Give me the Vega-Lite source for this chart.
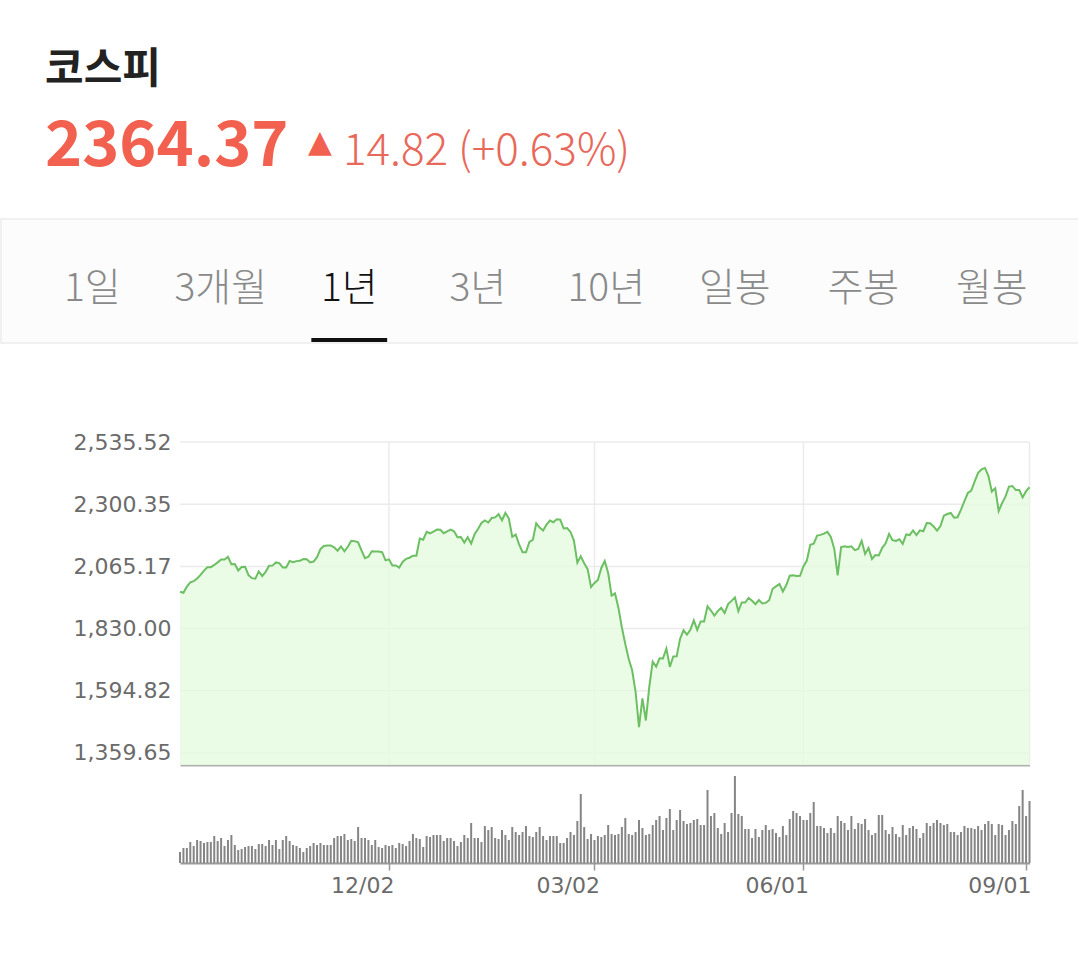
{
"$schema": "https://vega.github.io/schema/vega-lite/v6.json",
"background": "white",
"padding": 0,
"spacing": 0,
"config": {"view": {"stroke": null}, "concat": {"spacing": 0}},
"datasets": {
"header": [{"name": "코스피", "price": "2364.37", "arrow": "▲", "change": "14.82 (+0.63%)"}],
"tabs": [{"tab": "1일", "sel": "n"}, {"tab": "3개월", "sel": "n"}, {"tab": "1년", "sel": "y"}, {"tab": "3년", "sel": "n"}, {"tab": "10년", "sel": "n"}, {"tab": "일봉", "sel": "n"}, {"tab": "주봉", "sel": "n"}, {"tab": "월봉", "sel": "n"}],
"ticks": [{"t": 1359.65}, {"t": 1594.82}, {"t": 1830.00}, {"t": 2065.17}, {"t": 2300.35}, {"t": 2535.52}],
"vlines": [{"d": "2019-12-02"}, {"d": "2020-03-02"}, {"d": "2020-06-01"}, {"d": "2020-09-02"}],
"kospi": [
{"d":"2019-09-02","c":1969.20,"v":220},{"d":"2019-09-03","c":1965.69,"v":300},{"d":"2019-09-04","c":1988.53,"v":300},{"d":"2019-09-05","c":2004.75,"v":420},{"d":"2019-09-06","c":2009.13,"v":340},
{"d":"2019-09-09","c":2019.55,"v":460},{"d":"2019-09-10","c":2032.88,"v":440},{"d":"2019-09-11","c":2049.20,"v":400},{"d":"2019-09-16","c":2062.22,"v":420},{"d":"2019-09-17","c":2062.33,"v":420},
{"d":"2019-09-18","c":2070.73,"v":540},{"d":"2019-09-19","c":2080.43,"v":440},{"d":"2019-09-20","c":2091.52,"v":500},{"d":"2019-09-23","c":2091.25,"v":340},{"d":"2019-09-24","c":2101.04,"v":460},
{"d":"2019-09-25","c":2073.48,"v":560},{"d":"2019-09-26","c":2074.52,"v":360},{"d":"2019-09-27","c":2049.76,"v":260},{"d":"2019-09-30","c":2063.05,"v":280},
{"d":"2019-10-01","c":2063.59,"v":320},{"d":"2019-10-02","c":2031.91,"v":340},{"d":"2019-10-04","c":2020.69,"v":340},{"d":"2019-10-07","c":2018.50,"v":280},{"d":"2019-10-08","c":2046.25,"v":380},
{"d":"2019-10-10","c":2028.50,"v":380},{"d":"2019-10-11","c":2044.61,"v":340},{"d":"2019-10-14","c":2067.51,"v":460},{"d":"2019-10-15","c":2068.17,"v":360},{"d":"2019-10-16","c":2080.27,"v":460},
{"d":"2019-10-17","c":2077.87,"v":280},{"d":"2019-10-18","c":2060.69,"v":460},{"d":"2019-10-21","c":2061.25,"v":540},{"d":"2019-10-22","c":2085.84,"v":440},{"d":"2019-10-23","c":2081.21,"v":360},
{"d":"2019-10-24","c":2085.11,"v":340},{"d":"2019-10-25","c":2086.32,"v":300},{"d":"2019-10-28","c":2092.69,"v":220},{"d":"2019-10-29","c":2092.00,"v":300},{"d":"2019-10-30","c":2080.27,"v":340},
{"d":"2019-10-31","c":2083.48,"v":400},
{"d":"2019-11-01","c":2100.20,"v":360},{"d":"2019-11-04","c":2130.24,"v":400},{"d":"2019-11-05","c":2142.64,"v":360},{"d":"2019-11-06","c":2144.15,"v":360},{"d":"2019-11-07","c":2144.35,"v":360},
{"d":"2019-11-08","c":2137.10,"v":500},{"d":"2019-11-11","c":2124.58,"v":540},{"d":"2019-11-12","c":2140.92,"v":540},{"d":"2019-11-13","c":2122.45,"v":580},{"d":"2019-11-14","c":2139.23,"v":460},
{"d":"2019-11-15","c":2162.18,"v":480},{"d":"2019-11-18","c":2160.69,"v":440},{"d":"2019-11-19","c":2156.26,"v":720},{"d":"2019-11-20","c":2125.32,"v":500},{"d":"2019-11-21","c":2096.60,"v":500},
{"d":"2019-11-22","c":2101.96,"v":460},{"d":"2019-11-25","c":2122.23,"v":360},{"d":"2019-11-26","c":2121.35,"v":460},{"d":"2019-11-27","c":2121.40,"v":320},{"d":"2019-11-28","c":2118.98,"v":300},
{"d":"2019-11-29","c":2087.96,"v":360},
{"d":"2019-12-02","c":2091.92,"v":340},{"d":"2019-12-03","c":2068.89,"v":360},{"d":"2019-12-04","c":2068.60,"v":300},{"d":"2019-12-05","c":2060.74,"v":400},{"d":"2019-12-06","c":2081.85,"v":380},
{"d":"2019-12-09","c":2093.66,"v":340},{"d":"2019-12-10","c":2098.00,"v":440},{"d":"2019-12-11","c":2105.62,"v":580},{"d":"2019-12-12","c":2105.63,"v":500},{"d":"2019-12-13","c":2170.25,"v":480},
{"d":"2019-12-16","c":2166.12,"v":320},{"d":"2019-12-17","c":2195.68,"v":540},{"d":"2019-12-18","c":2190.32,"v":520},{"d":"2019-12-19","c":2196.56,"v":560},{"d":"2019-12-20","c":2204.18,"v":560},
{"d":"2019-12-23","c":2203.71,"v":560},{"d":"2019-12-24","c":2190.80,"v":440},{"d":"2019-12-26","c":2197.93,"v":500},{"d":"2019-12-27","c":2204.21,"v":500},{"d":"2019-12-30","c":2197.67,"v":440},
{"d":"2020-01-02","c":2175.17,"v":340},{"d":"2020-01-03","c":2176.46,"v":420},{"d":"2020-01-06","c":2155.07,"v":560},{"d":"2020-01-07","c":2175.54,"v":500},{"d":"2020-01-08","c":2151.31,"v":800},
{"d":"2020-01-09","c":2186.45,"v":500},{"d":"2020-01-10","c":2206.39,"v":500},{"d":"2020-01-13","c":2229.26,"v":420},{"d":"2020-01-14","c":2238.88,"v":740},{"d":"2020-01-15","c":2230.98,"v":660},
{"d":"2020-01-16","c":2248.05,"v":720},{"d":"2020-01-17","c":2250.57,"v":500},{"d":"2020-01-20","c":2262.64,"v":480},{"d":"2020-01-21","c":2239.69,"v":660},{"d":"2020-01-22","c":2267.25,"v":560},
{"d":"2020-01-23","c":2246.13,"v":460},{"d":"2020-01-28","c":2176.72,"v":720},{"d":"2020-01-29","c":2185.28,"v":620},{"d":"2020-01-30","c":2148.00,"v":560},{"d":"2020-01-31","c":2119.01,"v":620},
{"d":"2020-02-03","c":2118.88,"v":740},{"d":"2020-02-04","c":2157.90,"v":540},{"d":"2020-02-05","c":2165.63,"v":520},{"d":"2020-02-06","c":2227.94,"v":620},{"d":"2020-02-07","c":2211.95,"v":720},
{"d":"2020-02-10","c":2201.07,"v":540},{"d":"2020-02-11","c":2223.12,"v":460},{"d":"2020-02-12","c":2238.38,"v":540},{"d":"2020-02-13","c":2232.07,"v":540},{"d":"2020-02-14","c":2243.59,"v":540},
{"d":"2020-02-17","c":2242.17,"v":400},{"d":"2020-02-18","c":2208.88,"v":400},{"d":"2020-02-19","c":2210.34,"v":500},{"d":"2020-02-20","c":2195.50,"v":620},{"d":"2020-02-21","c":2162.84,"v":560},
{"d":"2020-02-24","c":2079.04,"v":840},{"d":"2020-02-25","c":2103.61,"v":1380},{"d":"2020-02-26","c":2076.77,"v":720},{"d":"2020-02-27","c":2054.89,"v":480},{"d":"2020-02-28","c":1987.01,"v":580},
{"d":"2020-03-02","c":2002.51,"v":460},{"d":"2020-03-03","c":2014.15,"v":540},{"d":"2020-03-04","c":2059.33,"v":520},{"d":"2020-03-05","c":2085.26,"v":560},{"d":"2020-03-06","c":2040.22,"v":760},
{"d":"2020-03-09","c":1954.77,"v":580},{"d":"2020-03-10","c":1962.93,"v":560},{"d":"2020-03-11","c":1908.27,"v":580},{"d":"2020-03-12","c":1834.33,"v":720},{"d":"2020-03-13","c":1771.44,"v":900},
{"d":"2020-03-16","c":1714.86,"v":580},{"d":"2020-03-17","c":1672.44,"v":560},{"d":"2020-03-18","c":1591.20,"v":620},{"d":"2020-03-19","c":1457.64,"v":860},{"d":"2020-03-20","c":1566.15,"v":700},
{"d":"2020-03-23","c":1482.46,"v":560},{"d":"2020-03-24","c":1609.97,"v":580},{"d":"2020-03-25","c":1704.76,"v":760},{"d":"2020-03-26","c":1686.24,"v":860},{"d":"2020-03-27","c":1717.73,"v":940},
{"d":"2020-03-30","c":1717.12,"v":660},{"d":"2020-03-31","c":1754.64,"v":900},
{"d":"2020-04-01","c":1685.46,"v":1080},{"d":"2020-04-02","c":1724.86,"v":660},{"d":"2020-04-03","c":1725.44,"v":860},{"d":"2020-04-06","c":1791.88,"v":1060},{"d":"2020-04-07","c":1823.60,"v":840},
{"d":"2020-04-08","c":1807.14,"v":780},{"d":"2020-04-09","c":1825.76,"v":800},{"d":"2020-04-10","c":1860.70,"v":860},{"d":"2020-04-13","c":1825.05,"v":880},{"d":"2020-04-14","c":1857.08,"v":760},
{"d":"2020-04-16","c":1857.07,"v":760},{"d":"2020-04-17","c":1914.53,"v":1460},{"d":"2020-04-20","c":1898.36,"v":940},{"d":"2020-04-21","c":1879.38,"v":1000},{"d":"2020-04-22","c":1896.15,"v":700},
{"d":"2020-04-23","c":1909.00,"v":580},{"d":"2020-04-24","c":1889.01,"v":800},{"d":"2020-04-27","c":1922.77,"v":620},{"d":"2020-04-28","c":1934.81,"v":1000},{"d":"2020-04-29","c":1947.56,"v":1740},
{"d":"2020-05-04","c":1895.37,"v":980},{"d":"2020-05-06","c":1928.76,"v":940},{"d":"2020-05-07","c":1928.61,"v":680},{"d":"2020-05-08","c":1945.82,"v":680},{"d":"2020-05-11","c":1935.40,"v":500},
{"d":"2020-05-12","c":1922.17,"v":680},{"d":"2020-05-13","c":1938.00,"v":520},{"d":"2020-05-14","c":1925.00,"v":660},{"d":"2020-05-15","c":1927.28,"v":760},{"d":"2020-05-18","c":1937.11,"v":660},
{"d":"2020-05-19","c":1980.61,"v":680},{"d":"2020-05-20","c":1989.64,"v":600},{"d":"2020-05-21","c":1998.31,"v":520},{"d":"2020-05-22","c":1970.13,"v":740},{"d":"2020-05-25","c":1994.60,"v":560},
{"d":"2020-05-26","c":2029.78,"v":880},{"d":"2020-05-27","c":2031.20,"v":1040},{"d":"2020-05-28","c":2028.54,"v":1000},{"d":"2020-05-29","c":2029.60,"v":940},
{"d":"2020-06-01","c":2065.08,"v":860},{"d":"2020-06-02","c":2087.19,"v":860},{"d":"2020-06-03","c":2147.00,"v":1000},{"d":"2020-06-04","c":2151.18,"v":1220},{"d":"2020-06-05","c":2181.87,"v":740},
{"d":"2020-06-08","c":2184.29,"v":740},{"d":"2020-06-09","c":2188.92,"v":700},{"d":"2020-06-10","c":2195.69,"v":600},{"d":"2020-06-11","c":2176.78,"v":700},{"d":"2020-06-12","c":2132.30,"v":600},
{"d":"2020-06-15","c":2030.82,"v":940},{"d":"2020-06-16","c":2138.05,"v":840},{"d":"2020-06-17","c":2141.05,"v":800},{"d":"2020-06-18","c":2139.02,"v":660},{"d":"2020-06-19","c":2141.32,"v":940},
{"d":"2020-06-22","c":2126.73,"v":680},{"d":"2020-06-23","c":2131.24,"v":800},{"d":"2020-06-24","c":2161.51,"v":780},{"d":"2020-06-25","c":2112.37,"v":880},{"d":"2020-06-26","c":2134.65,"v":660},
{"d":"2020-06-29","c":2093.48,"v":560},{"d":"2020-06-30","c":2108.33,"v":600},
{"d":"2020-07-01","c":2106.70,"v":960},{"d":"2020-07-02","c":2135.37,"v":960},{"d":"2020-07-03","c":2152.41,"v":660},{"d":"2020-07-06","c":2187.93,"v":580},{"d":"2020-07-07","c":2164.17,"v":720},
{"d":"2020-07-08","c":2161.75,"v":580},{"d":"2020-07-09","c":2167.90,"v":520},{"d":"2020-07-10","c":2150.25,"v":760},{"d":"2020-07-13","c":2186.06,"v":560},{"d":"2020-07-14","c":2183.61,"v":700},
{"d":"2020-07-15","c":2201.19,"v":740},{"d":"2020-07-16","c":2183.76,"v":680},{"d":"2020-07-17","c":2201.47,"v":500},{"d":"2020-07-20","c":2198.20,"v":600},{"d":"2020-07-21","c":2228.93,"v":800},
{"d":"2020-07-22","c":2228.66,"v":740},{"d":"2020-07-23","c":2216.19,"v":800},{"d":"2020-07-24","c":2200.44,"v":860},{"d":"2020-07-27","c":2217.86,"v":800},{"d":"2020-07-28","c":2256.99,"v":760},
{"d":"2020-07-29","c":2263.16,"v":780},{"d":"2020-07-30","c":2267.01,"v":620},{"d":"2020-07-31","c":2249.37,"v":620},
{"d":"2020-08-03","c":2251.04,"v":560},{"d":"2020-08-04","c":2279.97,"v":620},{"d":"2020-08-05","c":2311.86,"v":740},{"d":"2020-08-06","c":2342.61,"v":700},{"d":"2020-08-07","c":2351.67,"v":700},
{"d":"2020-08-10","c":2386.38,"v":680},{"d":"2020-08-11","c":2418.67,"v":740},{"d":"2020-08-12","c":2432.35,"v":660},{"d":"2020-08-13","c":2437.53,"v":780},{"d":"2020-08-14","c":2407.49,"v":840},
{"d":"2020-08-18","c":2348.24,"v":780},{"d":"2020-08-19","c":2360.54,"v":560},{"d":"2020-08-20","c":2274.22,"v":780},{"d":"2020-08-21","c":2304.59,"v":760},{"d":"2020-08-24","c":2329.83,"v":560},
{"d":"2020-08-25","c":2366.73,"v":660},{"d":"2020-08-26","c":2369.25,"v":840},{"d":"2020-08-27","c":2353.80,"v":780},{"d":"2020-08-28","c":2353.80,"v":1140},{"d":"2020-08-31","c":2326.17,"v":1460},
{"d":"2020-09-01","c":2349.55,"v":940},{"d":"2020-09-02","c":2364.37,"v":1240}
]
},
"vconcat": [
{
"width": 1078, "height": 218,
"data": {"name": "header"},
"layer": [
{"mark": {"type": "text", "align": "left", "baseline": "alphabetic", "font": "Noto Sans CJK KR", "fontSize": 42, "fontWeight": "bold", "color": "#222222"},
 "encoding": {"text": {"field": "name"}, "x": {"value": 44}, "y": {"value": 83}}},
{"mark": {"type": "text", "align": "left", "baseline": "alphabetic", "font": "Noto Sans CJK KR", "fontSize": 63, "fontWeight": "bold", "color": "#f2604f"},
 "encoding": {"text": {"field": "price"}, "x": {"value": 44}, "y": {"value": 166}}},
{"mark": {"type": "text", "align": "left", "baseline": "alphabetic", "font": "DejaVu Sans", "fontSize": 31, "color": "#f2604f"},
 "encoding": {"text": {"field": "arrow"}, "x": {"value": 307}, "y": {"value": 152}}},
{"mark": {"type": "text", "align": "left", "baseline": "alphabetic", "font": "Noto Sans CJK KR", "fontSize": 44, "fontWeight": 300, "color": "#e8685a"},
 "encoding": {"text": {"field": "change"}, "x": {"value": 342}, "y": {"value": 165}}}
]
},
{
"width": 1078, "height": 124,
"view": {"fill": "#fcfcfc", "stroke": "#ebebeb", "strokeWidth": 1.5},
"data": {"name": "tabs"},
"layer": [
{"mark": {"type": "text", "baseline": "alphabetic", "font": "Noto Sans CJK KR", "fontSize": 39, "fontWeight": 300},
 "encoding": {
  "text": {"field": "tab"},
  "x": {"field": "tab", "type": "nominal", "bandPosition": 0.5, "scale": {"type": "band", "domain": ["1일", "3개월", "1년", "3년", "10년", "일봉", "주봉", "월봉"], "range": [27, 1055], "paddingInner": 0, "paddingOuter": 0}, "axis": null},
  "y": {"value": 82},
  "color": {"field": "sel", "type": "nominal", "scale": {"domain": ["y", "n"], "range": ["#111111", "#8a8a8a"]}, "legend": null}
 }},
{"transform": [{"filter": "datum.sel == 'y'"}],
 "mark": {"type": "bar", "width": {"band": 0.59}, "color": "#111111"},
 "encoding": {
  "x": {"field": "tab", "type": "nominal"},
  "y": {"value": 119}, "y2": {"value": 123}
 }}
]
},
{
"width": 1078, "height": 421,
"layer": [
{"data": {"name": "ticks"}, "mark": {"type": "rule", "color": "#ebebeb", "strokeWidth": 1.5},
 "encoding": {"y": {"field": "t", "type": "quantitative"}, "x": {"datum": "2019-09-02", "type": "ordinal"}, "x2": {"datum": "2020-09-02"}}},
{"data": {"name": "vlines"}, "mark": {"type": "rule", "color": "#ebebeb", "strokeWidth": 1.5},
 "encoding": {"x": {"field": "d", "type": "ordinal"}, "y": {"datum": 2535.52, "type": "quantitative"}, "y2": {"datum": 1314.26}}},
{"data": {"name": "kospi"}, "mark": {"type": "area", "color": "#e6fbe0", "opacity": 0.8},
 "encoding": {
  "x": {"field": "d", "type": "ordinal", "scale": {"type": "point", "range": [179, 1028.5], "padding": 0},
        "axis": {"labels": false, "ticks": false, "domain": true, "domainColor": "#b0b0b0", "domainWidth": 2, "title": null, "grid": false}},
  "y": {"field": "c", "type": "quantitative", "scale": {"domain": [1314.26, 2906.06], "nice": false, "zero": false},
        "axis": {"orient": "left", "offset": -179, "values": [1359.65, 1594.82, 1830.00, 2065.17, 2300.35, 2535.52], "format": ",.2f", "labelFontSize": 22, "labelFont": "DejaVu Sans", "labelColor": "#6b6b6b", "ticks": false, "domain": false, "grid": false, "labelPadding": 9, "title": null}},
  "y2": {"datum": 1314.26}
 }},
{"data": {"name": "kospi"}, "mark": {"type": "line", "color": "#6cbf62", "strokeWidth": 2},
 "encoding": {"x": {"field": "d", "type": "ordinal"}, "y": {"field": "c", "type": "quantitative"}}}
]
},
{
"width": 1078, "height": 97,
"data": {"name": "kospi"},
"mark": {"type": "bar", "width": 2, "color": "#858585"},
"encoding": {
 "x": {"field": "d", "type": "ordinal", "scale": {"type": "point", "range": [179, 1028.5], "padding": 0},
       "axis": {"values": ["2019-12-02", "2020-03-02", "2020-06-01", "2020-09-01"], "labelExpr": "substring(datum.value,5,7) + '/' + substring(datum.value,8,10)", "labelAngle": 0, "labelAlign": "right", "labelOffset": 5, "domainColor": "#9a9a9a", "domainWidth": 2, "tickColor": "#9a9a9a", "tickSize": 7, "tickWidth": 1.5, "labelFontSize": 22, "labelFont": "DejaVu Sans", "labelColor": "#6b6b6b", "labelPadding": 5, "title": null, "grid": false}},
 "y": {"field": "v", "type": "quantitative", "scale": {"domain": [0, 1940], "nice": false}, "axis": null}
}
}
]
}
